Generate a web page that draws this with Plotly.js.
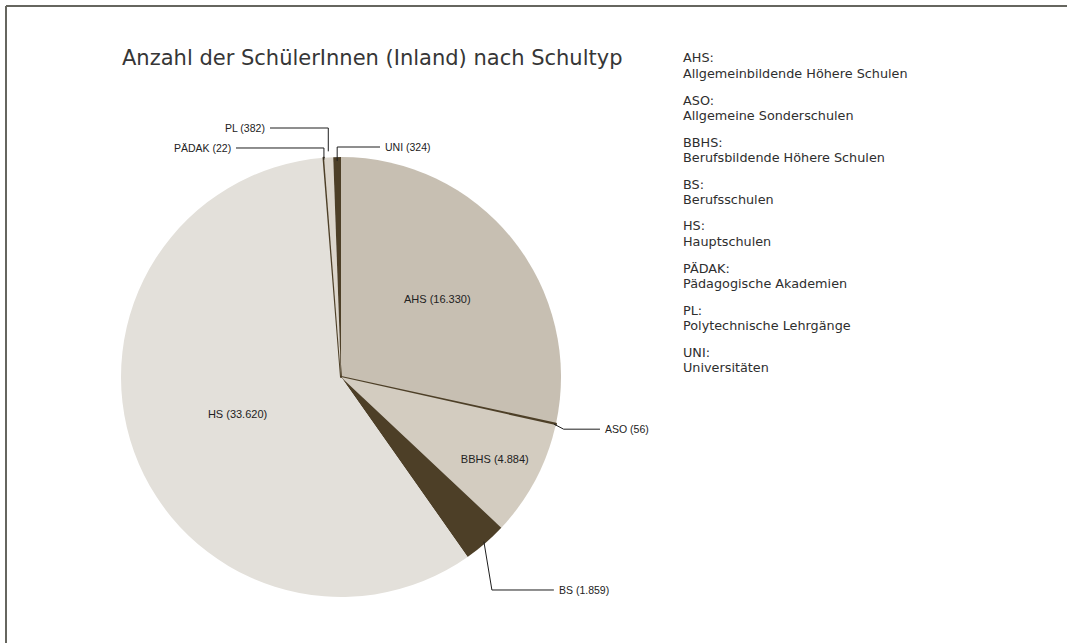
<!DOCTYPE html>
<html>
<head>
<meta charset="utf-8">
<script src="https://cdn.plot.ly/plotly-3.0.1.min.js"></script>
<style>
  html, body { margin: 0; padding: 0; background: #ffffff; }
  #chart { width: 1067px; height: 643px; }
</style>
</head>
<body>
<div id="chart"></div>
<script>
// ---- data ----
const categories = ["AHS", "ASO", "BBHS", "BS", "HS", "PÄDAK", "PL", "UNI"];
const values = [16330, 56, 4884, 1859, 33620, 22, 382, 324];
const valueLabels = ["16.330", "56", "4.884", "1.859", "33.620", "22", "382", "324"];
const sliceColors = ["#c7bfb2", "#4d3f27", "#d3ccc0", "#4d3f27", "#e3e0da", "#4d3f27", "#dcd6cc", "#4d3f27"];
const sliceEdgeWidths = [0, 2, 0, 0, 0, 2, 0, 0];
const insideSlices = ["AHS", "BBHS", "HS"];
const legendAbbr = ["AHS:", "ASO:", "BBHS:", "BS:", "HS:", "PÄDAK:", "PL:", "UNI:"];
const legendNames = ["Allgemeinbildende Höhere Schulen", "Allgemeine Sonderschulen", "Berufsbildende Höhere Schulen",
  "Berufsschulen", "Hauptschulen", "Pädagogische Akademien", "Polytechnische Lehrgänge", "Universitäten"];
const titleText = "Anzahl der SchülerInnen (Inland) nach Schultyp";

// ---- geometry ----
const W = 1067, H = 643;
const CX = 341, CY = 377, R = 220;
const px = x => x / W;
const py = y => 1 - y / H;

const texts = categories.map((c, i) => insideSlices.includes(c) ? c + " (" + valueLabels[i] + ")" : "");

const total = values.reduce((a, b) => a + b, 0);
const midAngle = {};
let acc = 0;
categories.forEach((c, i) => {
  midAngle[c] = (acc + values[i] / 2) / total * 2 * Math.PI;
  acc += values[i];
});
function rim(c, r) {
  const a = midAngle[c];
  return [CX + r * Math.sin(a), CY - r * Math.cos(a)];
}

const lineStyle = {color: "#1e1e1e", width: 1};
const shapes = [];
const annotations = [];
const labFont = {family: "Liberation Sans Narrow, Liberation Sans, Arial Narrow, sans-serif", size: 10.5, color: "#222"};

function addLeader(pts, cat, lx, ly, anchor) {
  const d = pts.map((p, k) => (k ? "L" : "M") + px(p[0]).toFixed(5) + "," + py(p[1]).toFixed(5)).join(" ");
  shapes.push({type: "path", xref: "paper", yref: "paper", path: d, line: lineStyle});
  const i = categories.indexOf(cat);
  annotations.push({xref: "paper", yref: "paper", x: px(lx), y: py(ly), xanchor: anchor, yanchor: "middle",
    text: cat + " (" + valueLabels[i] + ")", showarrow: false, font: labFont});
}

// UNI
(function () {
  const p = rim("UNI", R - 4);
  addLeader([p, [p[0], 147], [380, 147]], "UNI", 383, 147, "left");
})();
// PL
(function () {
  const p = rim("PL", R + 6);
  addLeader([p, [p[0], 128], [270, 128]], "PL", 267, 128, "right");
})();
// PÄDAK
(function () {
  const p = rim("PÄDAK", R - 2);
  addLeader([p, [p[0], 148], [236, 148]], "PÄDAK", 233, 148, "right");
})();
// ASO
(function () {
  const p = rim("ASO", R - 2);
  const q = rim("ASO", R + 8);
  addLeader([p, [q[0], q[1] + 3], [600, q[1] + 3]], "ASO", 603, q[1] + 3, "left");
})();
// BS
(function () {
  const p = rim("BS", R - 2);
  const ey = 590;
  addLeader([p, [p[0] + 8, ey], [p[0] + 70, ey]], "BS", p[0] + 73, ey, "left");
})();

// legend text block (one annotation per line)
const legFont = {family: "DejaVu Sans, Verdana, sans-serif", size: 12.8, color: "#2e2e2e"};
legendAbbr.forEach((a, i) => {
  annotations.push({xref: "paper", yref: "paper", x: px(681), y: py(58 + 42 * i), xanchor: "left", yanchor: "middle",
    showarrow: false, text: a, font: legFont});
  annotations.push({xref: "paper", yref: "paper", x: px(681), y: py(73 + 42 * i), xanchor: "left", yanchor: "middle",
    showarrow: false, text: legendNames[i], font: legFont});
});

// frame lines (top and left)
shapes.push({type: "line", xref: "paper", yref: "paper", x0: px(6), x1: px(6), y0: 0, y1: py(6), line: {color: "#66665f", width: 2}});
shapes.push({type: "line", xref: "paper", yref: "paper", x0: px(6), x1: 1, y0: py(6), y1: py(6), line: {color: "#66665f", width: 2}});

const trace = {
  type: "pie",
  labels: categories,
  values: values,
  text: texts,
  textinfo: "text",
  textposition: "inside",
  insidetextorientation: "horizontal",
  insidetextfont: {family: "Liberation Sans Narrow, Liberation Sans, Arial Narrow, sans-serif", size: 11, color: "#222"},
  sort: false,
  direction: "clockwise",
  rotation: 0,
  hoverinfo: "label+value",
  marker: {colors: sliceColors, line: {color: sliceColors, width: sliceEdgeWidths}},
  domain: {x: [px(CX - R), px(CX + R)], y: [py(CY + R), py(CY - R)]},
  showlegend: false
};

const layout = {
  width: W, height: H,
  margin: {l: 0, r: 0, t: 0, b: 0},
  paper_bgcolor: "#ffffff",
  showlegend: false,
  title: {text: titleText, x: px(122), xanchor: "left", xref: "paper", y: py(58), yanchor: "middle", yref: "container",
    font: {family: "DejaVu Sans, Verdana, sans-serif", size: 21, color: "#363636"}},
  shapes: shapes,
  annotations: annotations
};

Plotly.newPlot("chart", [trace], layout, {displayModeBar: false, staticPlot: true});
</script>
</body>
</html>
